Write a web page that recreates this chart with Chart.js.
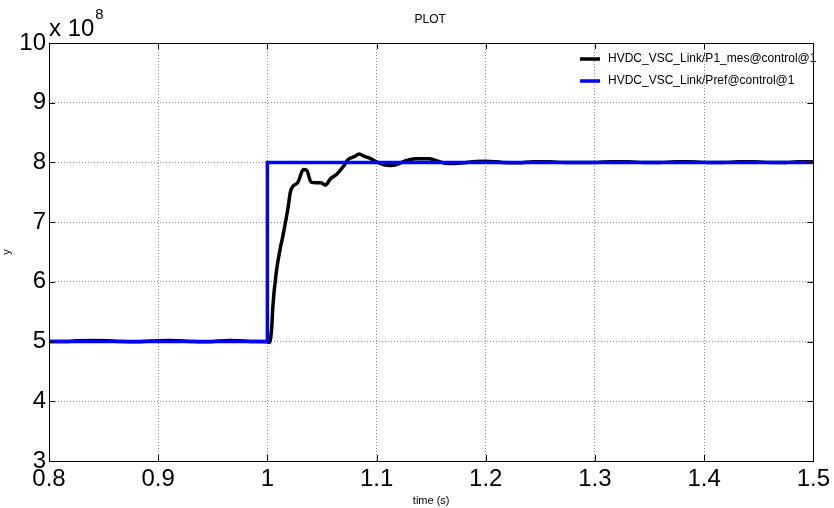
<!DOCTYPE html>
<html>
<head>
<meta charset="utf-8">
<script src="https://cdn.jsdelivr.net/npm/chart.js@4.4.0/dist/chart.umd.min.js"></script>
<style>
  html, body { margin: 0; padding: 0; background: #fff; }
  #wrap { width: 834px; height: 508px; position: relative; }
</style>
</head>
<body>
<div id="wrap"><canvas id="plot"></canvas></div>
<script>
// valores en unidades de 1e8
const Y_EXP = 8;
const xTicks = [0.8, 0.9, 1.0, 1.1, 1.2, 1.3, 1.4, 1.5];
const yTicks = [3, 4, 5, 6, 7, 8, 9, 10];

// HVDC_VSC_Link/P1_mes@control@1 (medida)
const tMes = [0.800,0.815,0.825,0.840,0.855,0.867,0.880,0.890,0.900,0.910,0.920,0.932,0.945,0.955,0.965,0.975,0.988,1.000,
  1.002,1.004,1.005,1.008,1.012,1.014,1.019,1.021,1.023,1.028,1.033,1.036,1.040,1.045,1.049,1.053,1.058,1.064,1.069,
  1.074,1.080,1.084,1.089,1.095,1.101,1.107,1.113,1.119,1.127,1.136,1.148,1.156,1.166,1.178,1.191,1.200,1.215,1.230,
  1.244,1.258,1.272,1.287,1.302,1.316,1.330,1.345,1.360,1.374,1.388,1.403,1.418,1.432,1.446,1.461,1.475,1.486,1.500];
const pMes = [5.000,5.000,5.012,5.018,5.012,5.000,4.995,5.005,5.015,5.018,5.012,5.000,4.997,5.008,5.016,5.014,5.000,4.995,
  4.985,5.24,5.58,6.14,6.58,6.75,7.25,7.50,7.59,7.67,7.88,7.87,7.67,7.66,7.66,7.62,7.73,7.81,7.92,
  8.05,8.10,8.14,8.10,8.06,8.00,7.96,7.95,7.97,8.03,8.06,8.06,8.02,7.98,7.99,8.015,8.02,8.00,7.995,
  8.013,8.013,7.997,7.997,8.00,8.013,8.013,7.997,7.997,8.013,8.013,7.997,7.997,8.013,8.013,7.997,7.997,8.013,8.01];

// HVDC_VSC_Link/Pref@control@1 (referencia escalón)
const tRef = [0.8, 1.0, 1.0, 1.5];
const pRef = [5, 5, 8, 8];

const labels = ["HVDC_VSC_Link/P1_mes@control@1", "HVDC_VSC_Link/Pref@control@1"];
const colors = ["#000000", "#0000ff"];

function toPoints(xs, ys){
  return xs.map((x, i) => ({ x: x, y: ys[i] }));
}

// caja, marcas interiores, titulo, exponente y leyenda
const matlabDecor = {
  id: "matlabDecor",
  afterDraw(chart){
    const ctx = chart.ctx;
    const a = chart.chartArea;
    const sx = chart.scales.x, sy = chart.scales.y;
    ctx.save();
    ctx.strokeStyle = "#000";
    ctx.lineWidth = 1;
    ctx.strokeRect(Math.round(a.left) + 0.5, Math.round(a.top) + 0.5,
      Math.round(a.right - a.left), Math.round(a.bottom - a.top));
    ctx.beginPath();
    xTicks.forEach(v => {
      const px = Math.round(sx.getPixelForValue(v)) + 0.5;
      ctx.moveTo(px, a.bottom); ctx.lineTo(px, a.bottom - 6);
      ctx.moveTo(px, a.top); ctx.lineTo(px, a.top + 6);
    });
    yTicks.forEach(v => {
      const py = Math.round(sy.getPixelForValue(v)) + 0.5;
      ctx.moveTo(a.left, py); ctx.lineTo(a.left + 6, py);
      ctx.moveTo(a.right, py); ctx.lineTo(a.right - 6, py);
    });
    ctx.stroke();

    ctx.fillStyle = "#000";
    ctx.textAlign = "center";
    ctx.textBaseline = "middle";
    ctx.font = "12px 'Liberation Sans', Arial, sans-serif";
    ctx.fillText("PLOT", (a.left + a.right) / 2 - 1, 20);

    // x 10^8
    ctx.textAlign = "left";
    ctx.textBaseline = "alphabetic";
    ctx.font = "24px 'Liberation Sans', Arial, sans-serif";
    ctx.fillText("x 10", a.left, 36);
    const w = ctx.measureText("x 10").width;
    ctx.font = "15px 'Liberation Sans', Arial, sans-serif";
    ctx.fillText(String(Y_EXP), a.left + w + 1, 19);

    // leyenda
    ctx.font = "12px 'Liberation Sans', Arial, sans-serif";
    ctx.textBaseline = "middle";
    const lx = 580, ly = [59, 81];
    labels.forEach((txt, i) => {
      ctx.strokeStyle = colors[i];
      ctx.lineWidth = 3.5;
      ctx.beginPath();
      ctx.moveTo(lx, ly[i]); ctx.lineTo(lx + 20, ly[i]);
      ctx.stroke();
      ctx.fillStyle = "#000";
      ctx.fillText(txt, lx + 28, ly[i]);
    });
    ctx.restore();
  }
};

const tickFont = { family: "'Liberation Sans', Arial, sans-serif", size: 24 };

new Chart(document.getElementById("plot"), {
  type: "line",
  data: {
    datasets: [
      {
        label: labels[0],
        data: toPoints(tMes, pMes),
        borderColor: colors[0],
        borderWidth: 3.5,
        pointRadius: 0,
        cubicInterpolationMode: "monotone",
        order: 1
      },
      {
        label: labels[1],
        data: toPoints(tRef, pRef),
        borderColor: colors[1],
        borderWidth: 3.5,
        pointRadius: 0,
        tension: 0,
        order: 0
      }
    ]
  },
  options: {
    responsive: true,
    maintainAspectRatio: false,
    animation: false,
    layout: { padding: { top: 43, right: 17, left: 0, bottom: 0 } },
    plugins: { legend: { display: false }, tooltip: { enabled: false } },
    scales: {
      x: {
        type: "linear",
        min: 0.8, max: 1.5,
        afterBuildTicks: s => { s.ticks = xTicks.map(v => ({ value: v })); },
        afterFit: s => { s.height = 47; },
        ticks: {
          color: "#000", font: tickFont, padding: 4, maxRotation: 0, autoSkip: false,
          callback: v => String(+v.toFixed(1))
        },
        grid: { color: "rgba(0,0,0,0.45)", drawTicks: false, lineWidth: 1 },
        border: { display: false, dash: [1, 2] },
        title: {
          display: true, text: "time (s)", color: "#000",
          font: { family: "'Liberation Sans', Arial, sans-serif", size: 11 },
          padding: { top: 0, bottom: 0 }
        }
      },
      y: {
        type: "linear",
        min: 3, max: 10,
        afterBuildTicks: s => { s.ticks = yTicks.map(v => ({ value: v })); },
        afterFit: s => { s.width = 49; },
        ticks: { color: "#000", font: tickFont, padding: 3, autoSkip: false },
        grid: { color: "rgba(0,0,0,0.45)", drawTicks: false, lineWidth: 1 },
        border: { display: false, dash: [1, 2] },
        title: {
          display: true, text: "y", color: "#000",
          font: { family: "'Liberation Sans', Arial, sans-serif", size: 11 },
          padding: { top: 0, bottom: 0 }
        }
      }
    }
  },
  plugins: [matlabDecor]
});
</script>
</body>
</html>
